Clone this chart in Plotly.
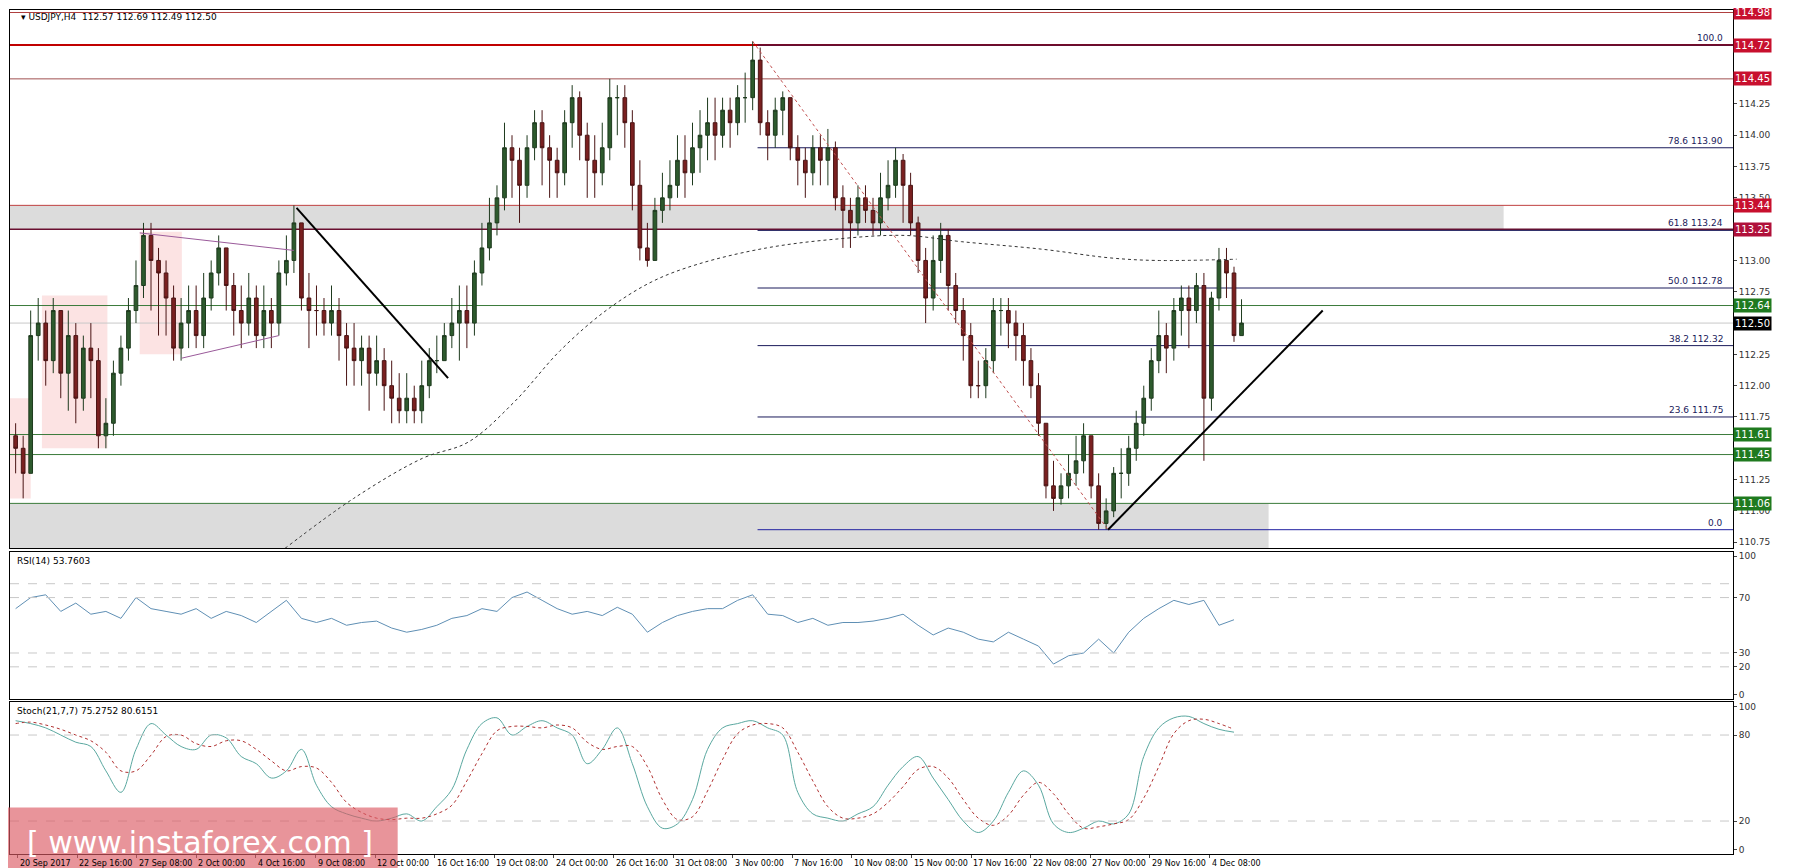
import plotly.graph_objects as go

close = [111.5,111.3,112.4,112.5,112.2,112.6,112.1,112.4,111.9,112.3,
112.2,111.6,111.7,112.1,112.3,112.6,112.8,113.2,113.0,112.9,
112.7,112.3,112.5,112.6,112.4,112.7,112.9,113.1,112.8,112.6,
112.5,112.7,112.4,112.6,112.5,112.9,113.0,113.3,112.7,112.6,
112.6,112.5,112.6,112.4,112.3,112.2,112.3,112.1,112.2,112.0,
111.9,111.8,111.9,111.8,112.0,112.2,112.2,112.4,112.5,112.6,
112.5,112.9,113.1,113.3,113.5,113.9,113.8,113.6,113.9,114.1,
113.9,113.8,113.7,114.1,114.3,114.0,113.8,113.7,113.9,114.3,
114.3,114.1,113.6,113.1,113.0,113.4,113.5,113.6,113.8,113.7,
113.9,114.0,114.1,114.0,114.2,114.1,114.3,114.3,114.6,114.1,
114.0,114.2,114.3,113.9,113.8,113.7,113.9,113.8,113.9,113.5,
113.4,113.3,113.5,113.4,113.3,113.5,113.6,113.8,113.6,113.3,
113.0,112.7,113.0,113.2,112.8,112.6,112.4,112.0,112.0,112.2,
112.6,112.6,112.5,112.4,112.2,112.0,111.7,111.2,111.1,111.2,
111.3,111.4,111.6,111.2,110.9,111.0,111.3,111.3,111.5,111.7,
111.9,112.2,112.4,112.3,112.6,112.7,112.6,112.8,111.9,112.7,
113.0,112.9,112.4,112.5]
high = [111.7,111.6,112.6,112.7,112.6,112.7,112.6,112.6,112.5,112.4,
112.5,112.3,111.9,112.2,112.4,112.7,113.0,113.3,113.3,113.1,
113.0,112.8,112.7,112.8,112.8,112.9,113.0,113.2,113.1,112.9,
112.8,112.9,112.8,112.8,112.7,113.0,113.2,113.44,113.3,112.9,
112.8,112.7,112.8,112.7,112.5,112.5,112.4,112.4,112.4,112.3,
112.2,112.1,112.1,112.0,112.2,112.3,112.4,112.5,112.7,112.8,
112.8,113.0,113.3,113.5,113.6,114.1,114.0,113.9,114.0,114.2,
114.2,114.0,113.9,114.2,114.4,114.35,114.1,114.0,114.1,114.45,
114.4,114.4,114.2,113.8,113.3,113.5,113.7,113.8,114.0,114.0,
114.1,114.2,114.3,114.3,114.3,114.3,114.4,114.5,114.75,114.7,
114.2,114.3,114.35,114.3,114.0,113.9,114.0,114.0,114.05,113.95,
113.6,113.5,113.6,113.6,113.5,113.7,113.8,113.9,113.85,113.7,
113.35,113.1,113.2,113.3,113.25,112.9,112.7,112.5,112.2,112.3,
112.7,112.7,112.7,112.6,112.5,112.3,112.1,111.7,111.4,111.3,
111.45,111.6,111.7,111.6,111.3,111.1,111.35,111.5,111.6,111.8,
112.0,112.3,112.6,112.5,112.7,112.8,112.8,112.9,112.9,112.75,
113.1,113.1,112.95,112.69]
low = [111.3,111.1,111.3,112.2,112.0,112.1,111.9,111.8,111.7,111.8,
111.9,111.5,111.5,111.6,112.0,112.2,112.5,112.7,112.6,112.4,
112.4,112.2,112.2,112.3,112.3,112.3,112.6,112.8,112.6,112.4,
112.3,112.4,112.3,112.3,112.3,112.4,112.8,112.9,112.6,112.3,
112.4,112.4,112.4,112.2,112.0,112.0,112.0,111.8,112.0,111.8,
111.7,111.7,111.7,111.7,111.7,111.9,112.1,112.2,112.3,112.2,
112.3,112.4,112.8,113.0,113.2,113.4,113.5,113.3,113.5,113.8,
113.6,113.5,113.5,113.6,113.9,113.8,113.5,113.5,113.6,113.8,
114.0,113.9,113.4,113.0,112.95,113.0,113.3,113.4,113.5,113.5,
113.6,113.7,113.8,113.8,113.9,113.9,114.0,114.1,114.2,114.0,
113.8,113.9,114.0,113.8,113.6,113.5,113.6,113.6,113.6,113.4,
113.1,113.1,113.2,113.3,113.2,113.2,113.4,113.5,113.3,113.2,
112.9,112.5,112.6,112.9,112.6,112.5,112.2,111.9,111.9,111.9,
112.1,112.4,112.3,112.2,112.0,111.9,111.6,111.1,111.0,111.05,
111.1,111.2,111.3,111.1,110.85,110.85,110.95,111.1,111.2,111.4,
111.6,111.8,112.1,112.1,112.2,112.4,112.3,112.5,111.4,111.8,
112.6,112.7,112.35,112.4]
first_open = 111.6

rsi = [62,70,72,60,66,58,60,55,70,62,60,58,62,55,60,57,52,60,68,55,52,55,50,52,53,48,45,47,50,55,
57,62,60,70,74,68,62,58,60,57,63,58,45,52,57,60,62,62,68,72,58,57,52,55,50,52,52,53,55,58,
50,43,48,45,40,38,45,40,35,22,28,30,40,30,45,55,62,68,65,68,50,54]
stoch_k = [90,88,85,80,75,72,55,40,70,88,80,72,70,80,78,65,60,50,55,70,45,30,25,22,20,22,25,20,30,42,
70,88,92,80,86,90,85,80,60,70,85,60,30,15,18,35,70,85,88,90,85,80,40,25,22,20,25,30,45,58,
65,50,35,20,12,20,40,55,45,18,12,15,20,18,25,65,85,92,93,88,84,82]
stoch_d = [88,89,87,84,80,76,68,55,55,66,79,80,74,72,76,76,70,62,55,58,57,47,33,26,22,21,22,22,25,31,
48,67,83,86,86,85,87,85,75,70,72,72,58,35,21,23,41,63,81,87,88,85,68,48,30,22,22,25,33,44,
56,58,50,35,22,17,24,38,47,39,25,15,16,18,21,36,58,81,90,91,88,84]

ma_x = [71.6,89.9,108.2,120.4,132.6,144.8,157,169.2,181.4,199.7,218,236.3,251.5,272.9,291.2,303.4,324.7]
ma_y = [110.70,111.1,111.42,111.55,111.87,112.28,112.6,112.83,112.97,113.1,113.17,113.2,113.15,113.09,113.02,113.0,113.01]

tick_labels = ["20 Sep 2017","22 Sep 16:00","27 Sep 08:00","2 Oct 00:00","4 Oct 16:00","9 Oct 08:00",
"12 Oct 00:00","16 Oct 16:00","19 Oct 08:00","24 Oct 00:00","26 Oct 16:00","31 Oct 08:00","3 Nov 00:00",
"7 Nov 16:00","10 Nov 08:00","15 Nov 00:00","17 Nov 16:00","22 Nov 08:00","27 Nov 00:00","29 Nov 16:00","4 Dec 08:00"]
tick_pos = [0.5+15.85*k for k in range(len(tick_labels))]
price_ticks = [110.75,111.0,111.25,111.75,112.0,112.25,112.75,113.0,113.5,113.75,114.0,114.25]

levels = [(114.98,"#b04040",1,"#c8102e"),(114.72,"#c00000",2,"#c8102e"),(114.45,"#a05050",1,"#c8102e"),
          (113.44,"#c04040",1,"#c8102e"),(113.25,"#6a1030",1.5,"#b0103a"),(112.64,"#3a7a3a",1,"#1f7a1f"),
          (112.50,"#c8c8c8",1,"#000000"),(111.61,"#3a7a3a",1,"#1f7a1f"),(111.45,"#3a7a3a",1,"#1f7a1f"),(111.06,"#3a7a3a",1,"#1f7a1f")]
fib_levels = [(114.72,"100.0"),(113.90,"78.6 113.90"),(113.24,"61.8 113.24"),(112.78,"50.0 112.78"),
              (112.32,"38.2 112.32"),(111.75,"23.6 111.75"),(110.85,"0.0")]
fib_start = 197.3
XMAX = 456.7

x = [2*i for i in range(len(close))]
opens = [first_open] + close[:-1]
xi = [2*i*len(close)/len(rsi) for i in range(len(rsi))]
n = min(len(stoch_k), len(stoch_d))
xs = [2*i*len(close)/n for i in range(n)]

fig = go.Figure()
fig.add_trace(go.Candlestick(x=x, open=opens, high=high, low=low, close=close,
    increasing=dict(line=dict(color="#1e3a1e", width=1), fillcolor="#2d5a2d"),
    decreasing=dict(line=dict(color="#4a1414", width=1), fillcolor="#7a2020"),
    whiskerwidth=0, xaxis="x", yaxis="y", showlegend=False))
fig.add_trace(go.Scatter(x=ma_x, y=ma_y, mode="lines", line=dict(color="#333", width=1, dash="dot", shape="spline"),
    xaxis="x", yaxis="y", showlegend=False))
fig.add_trace(go.Scatter(x=xi, y=rsi, mode="lines", line=dict(color="#5f8fb4", width=1), xaxis="x2", yaxis="y2", showlegend=False))
fig.add_trace(go.Scatter(x=xs, y=stoch_k[:n], mode="lines", line=dict(color="#5aa8a0", width=1, shape="spline"), xaxis="x3", yaxis="y3", showlegend=False))
fig.add_trace(go.Scatter(x=xs, y=stoch_d[:n], mode="lines", line=dict(color="#b03030", width=1, dash="dot", shape="spline"), xaxis="x3", yaxis="y3", showlegend=False))

shapes = []
shapes.append(dict(type="rect", xref="x", yref="y", x0=-1.5, x1=395.7, y0=113.25, y1=113.44, fillcolor="#dcdcdc", line_width=0, layer="below"))
shapes.append(dict(type="rect", xref="x", yref="y", x0=-1.5, x1=333.2, y0=110.70, y1=111.06, fillcolor="#dcdcdc", line_width=0, layer="below"))
for (a, b, c, d) in [(-1.5, 4, 111.1, 111.9), (7, 24.4, 111.5, 112.72), (33, 44.2, 112.25, 113.23)]:
    shapes.append(dict(type="rect", xref="x", yref="y", x0=a, x1=b, y0=c, y1=d, fillcolor="rgba(250,200,200,0.5)", line_width=0, layer="below"))
for (v, col, w, _) in levels:
    shapes.append(dict(type="line", xref="x", yref="y", x0=-1.5, x1=XMAX, y0=v, y1=v, line=dict(color=col, width=w), layer="below"))
for (v, t) in fib_levels:
    shapes.append(dict(type="line", xref="x", yref="y", x0=fib_start, x1=XMAX, y0=v, y1=v,
                       line=dict(color="#1a1a5a" if v != 110.85 else "#2020a0", width=1), layer="below"))
shapes.append(dict(type="line", xref="x", yref="y", x0=33, y0=113.22, x1=74, y1=113.08, line=dict(color="#9a5a9a", width=1)))
shapes.append(dict(type="line", xref="x", yref="y", x0=44.2, y0=112.22, x1=70, y1=112.40, line=dict(color="#9a5a9a", width=1)))
shapes.append(dict(type="line", xref="x", yref="y", x0=74.7, y0=113.42, x1=115, y1=112.06, line=dict(color="black", width=2)))
shapes.append(dict(type="line", xref="x", yref="y", x0=290.5, y0=110.85, x1=347.6, y1=112.6, line=dict(color="black", width=2)))
shapes.append(dict(type="line", xref="x", yref="y", x0=196, y0=114.75, x1=290.5, y1=110.85, line=dict(color="#c05050", width=1, dash="dot")))
for v in [80, 70, 30, 20]:
    shapes.append(dict(type="line", xref="x2", yref="y2", x0=-1.5, x1=XMAX, y0=v, y1=v, line=dict(color="#c8c8c8", width=1, dash="dash")))
for v in [80, 20]:
    shapes.append(dict(type="line", xref="x3", yref="y3", x0=-1.5, x1=XMAX, y0=v, y1=v, line=dict(color="#c8c8c8", width=1, dash="dash")))
shapes.append(dict(type="rect", xref="paper", yref="paper", x0=-0.002, x1=0.225, y0=-0.027, y1=0.055, fillcolor="rgba(220,90,100,0.65)", line_width=0))

ann = []
F = "DejaVu Sans"
for (v, col, w, box) in levels:
    ann.append(dict(xref="paper", yref="y", x=1.0, y=v, text="%.2f" % v, showarrow=False, xanchor="left",
                    font=dict(family=F, size=10, color="white"), bgcolor=box, borderpad=1))
for (v, t) in fib_levels:
    ann.append(dict(xref="x", yref="y", x=XMAX - 2, y=v, text=t, showarrow=False, xanchor="right", yanchor="bottom",
                    font=dict(family=F, size=9, color="#1a1a5a")))
for (p, t) in zip(tick_pos, tick_labels):
    ann.append(dict(xref="x3", yref="paper", x=p, y=-0.004, text=t, showarrow=False, xanchor="left", yanchor="top",
                    font=dict(family=F, size=8, color="black")))
ann.append(dict(xref="paper", yref="paper", x=0.005, y=1.0, text="▾ USDJPY,H4  112.57 112.69 112.49 112.50", showarrow=False,
                xanchor="left", yanchor="top", font=dict(family=F, size=9, color="black")))
ann.append(dict(xref="paper", yref="paper", x=0.003, y=0.356, text="RSI(14) 53.7603", showarrow=False,
                xanchor="left", yanchor="top", font=dict(family=F, size=9, color="black")))
ann.append(dict(xref="paper", yref="paper", x=0.003, y=0.178, text="Stoch(21,7,7) 75.2752 80.6151", showarrow=False,
                xanchor="left", yanchor="top", font=dict(family=F, size=9, color="black")))
ann.append(dict(xref="paper", yref="paper", x=0.11, y=0.014, text="[ www.instaforex.com ]", showarrow=False,
                xanchor="center", yanchor="middle", font=dict(family=F, size=30, color="white")))

ax = dict(range=[-1.5, XMAX], showgrid=False, zeroline=False, showline=True, linecolor="black", mirror=True,
          rangeslider=dict(visible=False))
yax = dict(side="right", showgrid=False, zeroline=False, showline=True, linecolor="black", mirror=True,
           ticks="outside", ticklen=3, tickfont=dict(family=F, size=9, color="#333"))
fig.update_layout(
    width=1800, height=868, margin=dict(l=2, r=75, t=2, b=22),
    paper_bgcolor="white", plot_bgcolor="white",
    xaxis=dict(ax, anchor="y", showticklabels=False),
    xaxis2=dict(ax, anchor="y2", matches="x", showticklabels=False),
    xaxis3=dict(ax, anchor="y3", matches="x", tickvals=tick_pos, showticklabels=False, ticks="outside", ticklen=3),
    yaxis=dict(yax, domain=[0.362, 1.0], range=[110.70, 115.0], tickvals=price_ticks, tickformat=".2f"),
    yaxis2=dict(yax, domain=[0.184, 0.358], range=[-3, 103], tickvals=[0, 20, 30, 70, 100]),
    yaxis3=dict(yax, domain=[0.0, 0.18], range=[-3, 103], tickvals=[0, 20, 80, 100]),
    shapes=shapes, annotations=ann,
)
fig.write_html("out.html")
